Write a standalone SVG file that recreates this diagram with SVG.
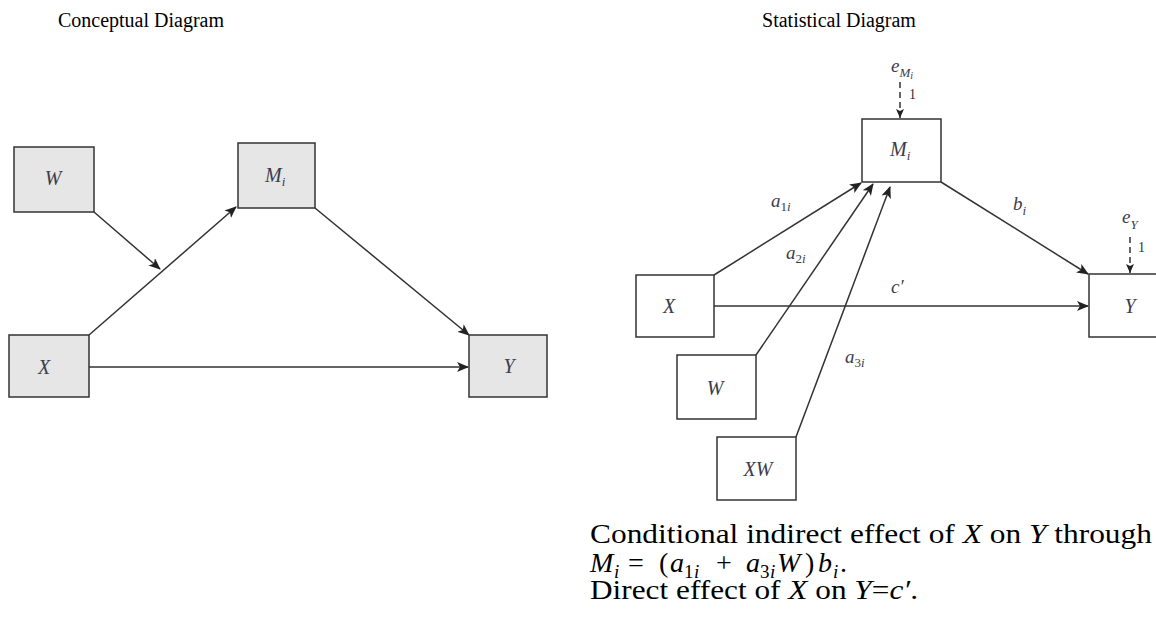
<svg xmlns="http://www.w3.org/2000/svg" width="1156" height="630" viewBox="0 0 1156 630">
<style>
.title{font-family:"Liberation Serif","Times New Roman",serif;font-size:20px;fill:#000}
.box{stroke:#333;stroke-width:1.5}
.cbox{fill:#e6e6e6}
.sbox{fill:#fff}
.lbl{font-family:"Liberation Serif","Times New Roman",serif;font-style:italic;font-size:20px;fill:#3c3c4c}
.ann{font-family:"Liberation Serif","Times New Roman",serif;font-style:italic;font-size:19px;fill:#3c3c4c}
.sub{font-size:13px}
.up{font-style:normal}
.one{font-family:"Liberation Serif","Times New Roman",serif;font-size:14px;fill:#333}
.edge{stroke:#333;stroke-width:1.5;fill:none}
.dash{stroke:#333;stroke-width:1.5;fill:none;stroke-dasharray:6,4}
.body{font-family:"Liberation Serif","Times New Roman",serif;font-size:28px;fill:#000}
.it{font-style:italic}
.msub{font-size:19px}
</style>
<defs>
<marker id="ah" markerUnits="userSpaceOnUse" markerWidth="12" markerHeight="10" refX="11" refY="5" orient="auto">
<path d="M0,0 L12,5 L0,10 L3,5 Z" fill="#222"/>
</marker>
<marker id="ahs" markerUnits="userSpaceOnUse" markerWidth="9" markerHeight="8" refX="9" refY="4" orient="auto">
<path d="M0,0 L9,4 L0,8 L2,4 Z" fill="#222"/>
</marker>
</defs>

<text class="title" x="141" y="27" text-anchor="middle">Conceptual Diagram</text>
<text class="title" x="839" y="27" text-anchor="middle">Statistical Diagram</text>

<g id="connectors">
<line class="edge" x1="94" y1="212" x2="160" y2="269" marker-end="url(#ah)"/>
<line class="edge" x1="89" y1="335" x2="236" y2="207" marker-end="url(#ah)"/>
<line class="edge" x1="89" y1="367" x2="468" y2="367" marker-end="url(#ah)"/>
<line class="edge" x1="315" y1="208" x2="469" y2="335" marker-end="url(#ah)"/>

<line class="edge" x1="714" y1="275" x2="861" y2="183" marker-end="url(#ah)"/>
<line class="edge" x1="756" y1="355" x2="873" y2="184" marker-end="url(#ah)"/>
<line class="edge" x1="796" y1="437" x2="890" y2="187" marker-end="url(#ah)"/>
<line class="edge" x1="941" y1="182" x2="1088" y2="274" marker-end="url(#ah)"/>
<line class="edge" x1="714" y1="306" x2="1088" y2="306" marker-end="url(#ah)"/>
<line class="dash" x1="900" y1="82" x2="900" y2="118" marker-end="url(#ahs)"/>
<line class="dash" x1="1130" y1="237" x2="1130" y2="273" marker-end="url(#ahs)"/>
</g>

<g id="c-W"><rect class="box cbox" x="14" y="147" width="80" height="65"/><text class="lbl" x="53" y="185" text-anchor="middle">W</text></g>
<g id="c-M"><rect class="box cbox" x="238" y="143" width="77" height="65"/><text class="lbl" x="265" y="182">M<tspan class="sub" dy="4">i</tspan></text></g>
<g id="c-X"><rect class="box cbox" x="9" y="335" width="80" height="62"/><text class="lbl" x="44" y="374" text-anchor="middle">X</text></g>
<g id="c-Y"><rect class="box cbox" x="469" y="335" width="78" height="62"/><text class="lbl" x="509" y="373" text-anchor="middle">Y</text></g>

<g id="s-M"><rect class="box sbox" x="862" y="119" width="79" height="63"/><text class="lbl" x="890" y="156">M<tspan class="sub" dy="4">i</tspan></text></g>
<g id="s-X"><rect class="box sbox" x="636" y="275" width="78" height="62"/><text class="lbl" x="669" y="313" text-anchor="middle">X</text></g>
<g id="s-Y"><rect class="box sbox" x="1089" y="274" width="78" height="63"/><text class="lbl" x="1130" y="313" text-anchor="middle">Y</text></g>
<g id="s-W"><rect class="box sbox" x="677" y="355" width="79" height="64"/><text class="lbl" x="715" y="395" text-anchor="middle">W</text></g>
<g id="s-XW"><rect class="box sbox" x="717" y="437" width="79" height="63"/><text class="lbl" x="758" y="476" text-anchor="middle">XW</text></g>

<g id="labels">
<text class="ann" x="891" y="72">e<tspan class="sub" dy="5">M</tspan><tspan style="font-size:10px" dy="2">i</tspan></text>
<text class="one" x="909" y="99">1</text>
<text class="ann" x="1122" y="223">e<tspan class="sub" dy="6">Y</tspan></text>
<text class="one" x="1138" y="252">1</text>
<text class="ann" x="771" y="207">a<tspan class="sub up" dy="4">1</tspan><tspan class="sub">i</tspan></text>
<text class="ann" x="786" y="259">a<tspan class="sub up" dy="4">2</tspan><tspan class="sub">i</tspan></text>
<text class="ann" x="845" y="363">a<tspan class="sub up" dy="4">3</tspan><tspan class="sub">i</tspan></text>
<text class="ann" x="1013" y="210">b<tspan class="sub" dy="5">i</tspan></text>
<text class="ann" x="891" y="293">c′</text>
</g>

<g id="caption">
<text class="body" x="590" y="543" textLength="562" lengthAdjust="spacingAndGlyphs">Conditional indirect effect of <tspan class="it">X</tspan> on <tspan class="it">Y</tspan> through</text>
<text class="body" y="572"><tspan class="it" x="590">M</tspan><tspan class="it msub" x="614" dy="6">i</tspan><tspan x="628" dy="-6">=</tspan><tspan x="659">(</tspan><tspan class="it" x="670">a</tspan><tspan class="msub" x="684" dy="6">1</tspan><tspan class="it msub" x="694">i</tspan><tspan x="716" dy="-6">+</tspan><tspan class="it" x="746">a</tspan><tspan class="msub" x="760" dy="6">3</tspan><tspan class="it msub" x="770">i</tspan><tspan class="it" x="777" dy="-6">W</tspan><tspan x="805">)</tspan><tspan class="it" x="818">b</tspan><tspan class="it msub" x="833" dy="6">i</tspan><tspan x="840" dy="-6">.</tspan></text>
<text class="body" x="590" y="599" textLength="328" lengthAdjust="spacingAndGlyphs">Direct effect of <tspan class="it">X</tspan> on <tspan class="it">Y</tspan>=<tspan class="it">c′</tspan>.</text>
</g>
</svg>
